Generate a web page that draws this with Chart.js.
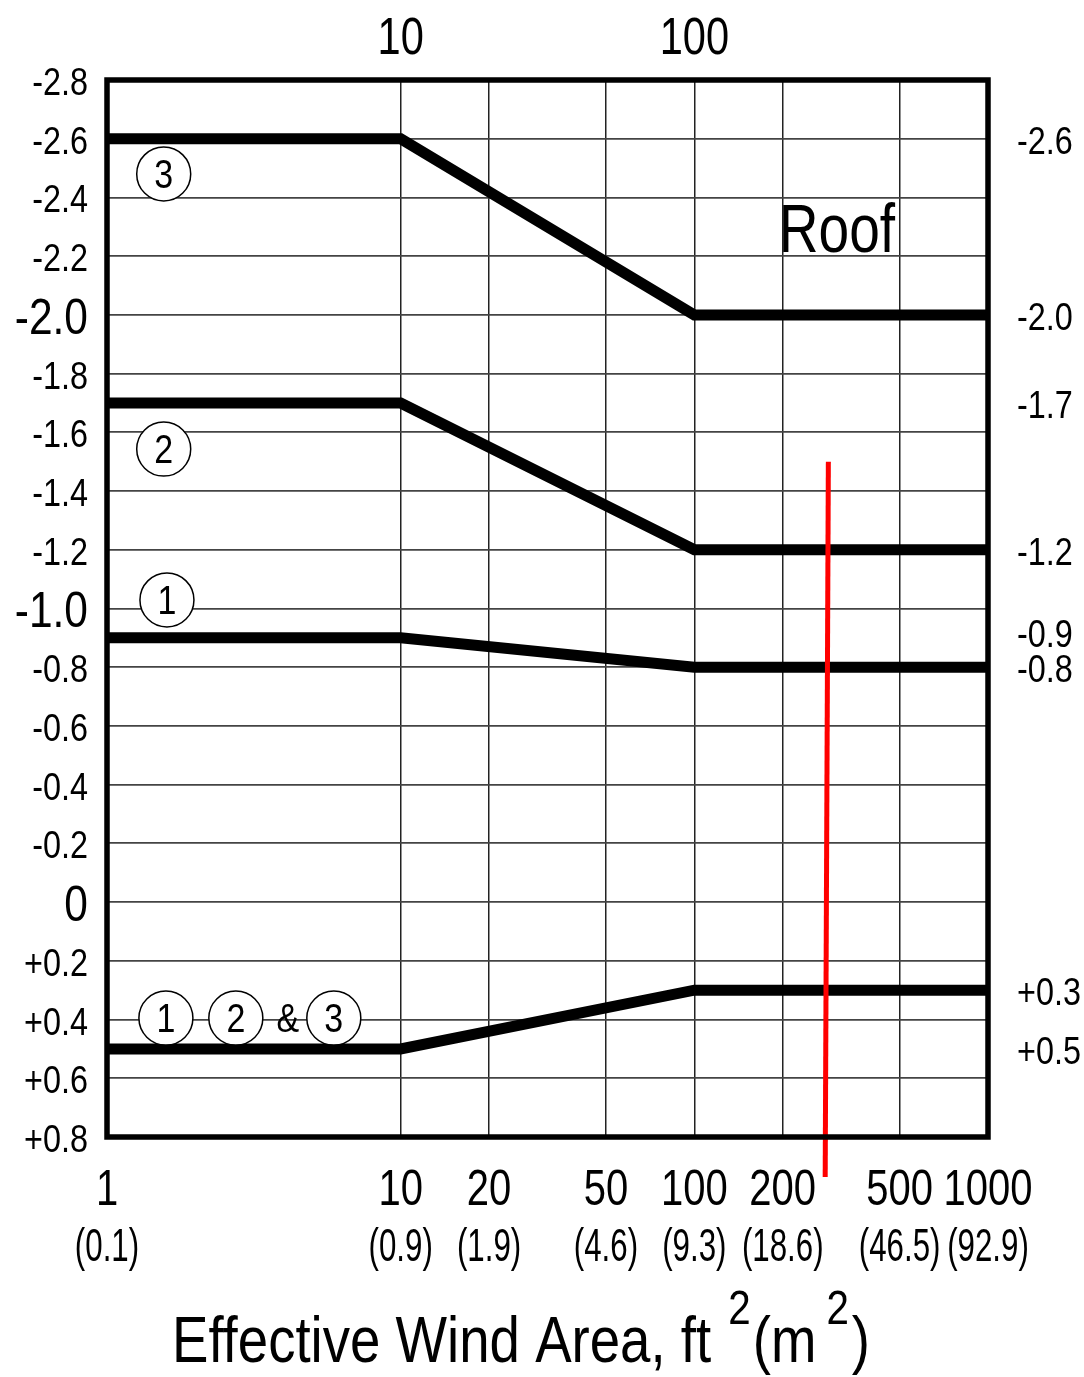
<!DOCTYPE html>
<html>
<head>
<meta charset="utf-8">
<title>Roof - Effective Wind Area</title>
<script src="https://cdn.jsdelivr.net/npm/chart.js@4.4.1/dist/chart.umd.min.js"></script>
<style>
  html, body { margin: 0; padding: 0; background: #fff; }
  canvas { display: block; }
</style>
</head>
<body>
<canvas id="roof-chart" width="1084" height="1377"></canvas>
<script>
// Effective wind area, ft^2 (break points of the curves)
const areas = [1, 10, 100, 1000];

// Pressure coefficients per zone
const zone3 = [-2.6, -2.6, -2.0, -2.0];
const zone2 = [-1.7, -1.7, -1.2, -1.2];
const zone1 = [-0.9, -0.9, -0.8, -0.8];
const zonePositive = [0.5, 0.5, 0.3, 0.3];

// Red marker line (two end points)
const markerX = [286, 279];
const markerY = [-1.5, 0.936];

// Axis ticks
const xTicks = [1, 10, 20, 50, 100, 200, 500, 1000];
const xTickLabels = ['1', '10', '20', '50', '100', '200', '500', '1000'];
const xMetricLabels = ['(0.1)', '(0.9)', '(1.9)', '(4.6)', '(9.3)', '(18.6)', '(46.5)', '(92.9)'];
const xTopTicks = [10, 100];
const yTicks = [-2.8, -2.6, -2.4, -2.2, -2.0, -1.8, -1.6, -1.4, -1.2, -1.0, -0.8, -0.6, -0.4, -0.2, 0, 0.2, 0.4, 0.6, 0.8];
const yTickLabels = ['-2.8', '-2.6', '-2.4', '-2.2', '-2.0', '-1.8', '-1.6', '-1.4', '-1.2', '-1.0', '-0.8', '-0.6', '-0.4', '-0.2', '0', '+0.2', '+0.4', '+0.6', '+0.8'];
const yBigLabels = ['-2.0', '-1.0', '0'];

// Values written at the right edge
const rightValues = [-2.6, -2.0, -1.7, -1.2, -0.92, -0.8, 0.3, 0.5];
const rightLabels = ['-2.6', '-2.0', '-1.7', '-1.2', '-0.9', '-0.8', '+0.3', '+0.5'];

const FONT = '"Liberation Sans", Arial, "DejaVu Sans", sans-serif';

/**
 * Draw narrow text (horizontally squeezed), vertically centred on the digits
 */
function drawText(ctx, text, x, y, size, squeeze, align) {
    ctx.save();
    ctx.font = size + 'px ' + FONT;
    ctx.translate(x, y + size * 0.358);
    ctx.scale(squeeze, 1);
    ctx.textAlign = align || 'center';
    ctx.textBaseline = 'alphabetic';
    ctx.fillStyle = '#000';
    ctx.fillText(text, 0, 0);
    ctx.restore();
}

function textWidth(ctx, text, size, squeeze) {
    ctx.save();
    ctx.font = size + 'px ' + FONT;
    const w = ctx.measureText(text).width * squeeze;
    ctx.restore();
    return w;
}

/**
 * Circled zone number
 */
function drawCircled(ctx, text, x, y) {
    ctx.save();
    ctx.beginPath();
    ctx.arc(x, y, 27, 0, Math.PI * 2);
    ctx.fillStyle = '#fff';
    ctx.fill();
    ctx.lineWidth = 1.5;
    ctx.strokeStyle = '#000';
    ctx.stroke();
    ctx.restore();
    drawText(ctx, text, x, y, 40, 0.85, 'center');
}

// Callouts placed in data coordinates
const callouts = [
    { text: '3', x: 1.56, y: -2.48, circled: true },
    { text: '2', x: 1.56, y: -1.543, circled: true },
    { text: '1', x: 1.60, y: -1.029, circled: true },
    { text: '1', x: 1.587, y: 0.395, circled: true },
    { text: '2', x: 2.746, y: 0.395, circled: true },
    { text: '&', x: 4.13, y: 0.395, circled: false },
    { text: '3', x: 5.92, y: 0.395, circled: true }
];

const labelsPlugin = {
    id: 'roofLabels',
    afterDraw(chart) {
        const ctx = chart.ctx;
        const area = chart.chartArea;
        const xs = chart.scales.x;
        const ys = chart.scales.y;

        // frame
        ctx.save();
        ctx.lineWidth = 5.5;
        ctx.strokeStyle = '#000';
        ctx.strokeRect(area.left, area.top, area.right - area.left, area.bottom - area.top);
        ctx.restore();

        // left tick labels
        yTicks.forEach((v, i) => {
            const big = yBigLabels.indexOf(yTickLabels[i]) >= 0;
            drawText(ctx, yTickLabels[i], area.left - 19, ys.getPixelForValue(v) + 1,
                big ? 50 : 39, big ? 0.85 : 0.83, 'right');
        });

        // right value labels
        rightValues.forEach((v, i) => {
            drawText(ctx, rightLabels[i], area.right + 29, ys.getPixelForValue(v) + 1, 39, 0.83, 'left');
        });

        // bottom tick labels (ft^2 and m^2)
        xTicks.forEach((v, i) => {
            const px = xs.getPixelForValue(v);
            drawText(ctx, xTickLabels[i], px, area.bottom + 50, 50, 0.8, 'center');
            drawText(ctx, xMetricLabels[i], px, area.bottom + 108, 46, 0.68, 'center');
        });

        // top tick labels
        xTopTicks.forEach(v => {
            drawText(ctx, String(v), xs.getPixelForValue(v), area.top - 45, 52, 0.8, 'center');
        });

        // zone callouts
        callouts.forEach(c => {
            const px = xs.getPixelForValue(c.x);
            const py = ys.getPixelForValue(c.y);
            if (c.circled) {
                drawCircled(ctx, c.text, px, py);
            } else {
                drawText(ctx, c.text, px, py, 40, 0.85, 'center');
            }
        });

        // Roof label
        drawText(ctx, 'Roof', xs.getPixelForValue(306), ys.getPixelForValue(-2.296), 68, 0.81, 'center');

        // axis title with superscripts
        const parts = [
            { t: 'Effective Wind Area, ft ', size: 65, sq: 0.84, dy: 0, gap: 2 },
            { t: '2', size: 48, sq: 0.84, dy: -32, gap: 2 },
            { t: '(m', size: 65, sq: 0.84, dy: 0, gap: 10 },
            { t: '2', size: 48, sq: 0.84, dy: -32, gap: 3 },
            { t: ')', size: 65, sq: 0.84, dy: 0, gap: 0 }
        ];
        let x = 172;
        const baseY = area.bottom + 202;
        parts.forEach(p => {
            drawText(ctx, p.t, x, baseY + p.dy, p.size, p.sq, 'left');
            x += textWidth(ctx, p.t, p.size, p.sq) + p.gap;
        });
    }
};

function toPoints(xv, yv) {
    return xv.map((x, i) => ({ x: x, y: yv[i] }));
}

function zoneDataset(label, values) {
    return {
        label: label,
        data: toPoints(areas, values),
        borderColor: '#000',
        borderWidth: 11,
        pointRadius: 0,
        tension: 0,
        fill: false,
        order: 1
    };
}

function createRoofChart() {
    const ctx = document.getElementById('roof-chart').getContext('2d');

    window.roofChart = new Chart(ctx, {
        type: 'line',
        data: {
            datasets: [
                {
                    label: 'Marker',
                    data: toPoints(markerX, markerY),
                    borderColor: '#ff0000',
                    borderWidth: 5,
                    pointRadius: 0,
                    fill: false,
                    clip: false,
                    order: 0
                },
                zoneDataset('Zone 3', zone3),
                zoneDataset('Zone 2', zone2),
                zoneDataset('Zone 1', zone1),
                zoneDataset('Zones 1, 2 & 3 (positive)', zonePositive)
            ]
        },
        options: {
            responsive: false,
            animation: false,
            devicePixelRatio: 1,
            layout: {
                padding: { left: 107, right: 96, top: 80, bottom: 240 }
            },
            scales: {
                x: {
                    type: 'logarithmic',
                    min: 1,
                    max: 1000,
                    afterBuildTicks: scale => {
                        scale.ticks = xTicks.map(v => ({ value: v }));
                    },
                    afterFit: scale => { scale.height = 0; },
                    ticks: { display: false },
                    border: { display: false },
                    grid: { color: '#222', lineWidth: 1.5, drawTicks: false }
                },
                y: {
                    type: 'linear',
                    min: -2.8,
                    max: 0.8,
                    reverse: true,
                    afterBuildTicks: scale => {
                        scale.ticks = yTicks.map(v => ({ value: v }));
                    },
                    afterFit: scale => { scale.width = 0; },
                    ticks: { display: false },
                    border: { display: false },
                    grid: { color: '#444', lineWidth: 1.8, drawTicks: false }
                }
            },
            plugins: {
                legend: { display: false },
                tooltip: { enabled: false }
            }
        },
        plugins: [labelsPlugin]
    });
}

createRoofChart();
</script>
</body>
</html>
